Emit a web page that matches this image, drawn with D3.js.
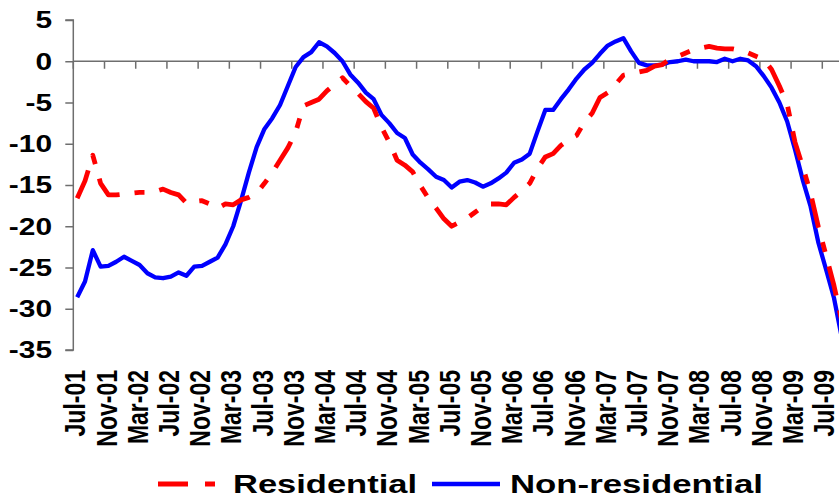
<!DOCTYPE html>
<html>
<head>
<meta charset="utf-8">
<script src="https://cdn.jsdelivr.net/npm/d3@7"></script>
<style>
  html, body { margin: 0; padding: 0; background: #fff; }
  svg { display: block; }
  text { font-family: "Liberation Sans", Arial, sans-serif; font-weight: bold; fill: #000; }
</style>
</head>
<body>
<svg id="chart" width="839" height="498"></svg>
<script>
// ---- data ----
const months = [
  "Jul-01","Aug-01","Sep-01","Oct-01","Nov-01","Dec-01","Jan-02","Feb-02","Mar-02","Apr-02","May-02","Jun-02",
  "Jul-02","Aug-02","Sep-02","Oct-02","Nov-02","Dec-02","Jan-03","Feb-03","Mar-03","Apr-03","May-03","Jun-03",
  "Jul-03","Aug-03","Sep-03","Oct-03","Nov-03","Dec-03","Jan-04","Feb-04","Mar-04","Apr-04","May-04","Jun-04",
  "Jul-04","Aug-04","Sep-04","Oct-04","Nov-04","Dec-04","Jan-05","Feb-05","Mar-05","Apr-05","May-05","Jun-05",
  "Jul-05","Aug-05","Sep-05","Oct-05","Nov-05","Dec-05","Jan-06","Feb-06","Mar-06","Apr-06","May-06","Jun-06",
  "Jul-06","Aug-06","Sep-06","Oct-06","Nov-06","Dec-06","Jan-07","Feb-07","Mar-07","Apr-07","May-07","Jun-07",
  "Jul-07","Aug-07","Sep-07","Oct-07","Nov-07","Dec-07","Jan-08","Feb-08","Mar-08","Apr-08","May-08","Jun-08",
  "Jul-08","Aug-08","Sep-08","Oct-08","Nov-08","Dec-08","Jan-09","Feb-09","Mar-09","Apr-09","May-09","Jun-09",
  "Jul-09","Aug-09","Sep-09"
];
const xTickLabels = ["Jul-01","Nov-01","Mar-02","Jul-02","Nov-02","Mar-03","Jul-03","Nov-03","Mar-04",
  "Jul-04","Nov-04","Mar-05","Jul-05","Nov-05","Mar-06","Jul-06","Nov-06","Mar-07","Jul-07","Nov-07",
  "Mar-08","Jul-08","Nov-08","Mar-09","Jul-09"];
const yTicks = [5, 0, -5, -10, -15, -20, -25, -30, -35];

const residential = [
  -16.6,-14.5,-11.4,-14.8,-16.2,-16.2,-16.1,-16.0,-15.9,-15.9,-15.8,-15.5,
  -15.9,-16.2,-17.2,-17.0,-16.9,-17.3,-17.8,-17.3,-17.4,-16.8,-16.5,-16.0,
  -14.8,-13.5,-12.0,-10.5,-8.6,-5.4,-5.0,-4.6,-3.6,-2.8,-2.0,-3.0,
  -3.9,-4.9,-5.7,-8.0,-9.8,-12.0,-12.6,-13.4,-15.1,-16.6,-17.8,-19.1,
  -20.0,-19.5,-19.0,-18.3,-17.6,-17.3,-17.3,-17.4,-16.5,-15.7,-14.8,-13.0,
  -11.6,-11.2,-10.2,-9.5,-9.0,-7.4,-6.3,-4.4,-3.8,-2.8,-1.7,-1.5,
  -1.3,-1.1,-0.6,-0.4,0.3,0.6,1.0,1.4,1.6,1.8,1.6,1.5,
  1.5,1.3,1.0,0.6,0.2,-1.0,-3.0,-5.2,-9.8,-12.8,-16.0,-20.1,
  -23.6,-27.2,-31.5
];
const nonResidential = [
  -28.6,-26.7,-22.9,-24.9,-24.8,-24.3,-23.7,-24.2,-24.7,-25.7,-26.2,-26.3,
  -26.1,-25.6,-26.0,-24.9,-24.8,-24.3,-23.8,-22.2,-20.0,-16.9,-13.5,-10.4,
  -8.2,-6.9,-5.3,-3.0,-0.7,0.5,1.1,2.3,1.8,1.0,0.0,-1.6,
  -2.6,-3.8,-4.6,-6.5,-7.5,-8.7,-9.3,-11.3,-12.3,-13.1,-14.0,-14.4,
  -15.3,-14.6,-14.4,-14.7,-15.2,-14.8,-14.2,-13.5,-12.3,-11.9,-11.2,-8.5,
  -5.9,-5.9,-4.6,-3.4,-2.1,-1.0,-0.2,0.9,1.9,2.4,2.8,1.2,
  -0.2,-0.5,-0.5,-0.4,-0.1,0.0,0.2,0.0,0.0,0.0,-0.1,0.3,
  0.0,0.3,0.1,-0.6,-1.8,-3.2,-5.0,-7.3,-10.7,-14.4,-17.6,-22.0,
  -25.3,-28.7,-33.5
];
const seriesNames = ["Residential", "Non-residential"];
const seriesColors = ["#FF0000", "#0000FF"];

// ---- layout ----
const svg = d3.select("#chart");
const left = 73.3, monthW = 7.802;
const x = d3.scaleBand().domain(months).range([left, left + months.length * monthW]).paddingInner(0).paddingOuter(0);
const y = d3.scaleLinear().domain([-35, 5]).range([350, 20]);
const cx = m => x(m) + x.bandwidth() / 2;
const axisColor = "#6e6e6e";

// y axis
const yAxis = d3.axisLeft(y).tickValues(yTicks).tickSize(8).tickFormat("");
const gy = svg.append("g").attr("transform", `translate(${left},0)`).call(yAxis);
gy.select(".domain").attr("stroke", axisColor).attr("stroke-width", 1.5).attr("d", `M-8,${y(5)}H0V${y(-35)}H-8`);
gy.selectAll(".tick line").attr("stroke", axisColor).attr("stroke-width", 1.5);

svg.append("g").selectAll("text").data(yTicks).join("text")
  .attr("text-anchor", "end")
  .attr("font-size", 23)
  .attr("dy", "0.36em")
  .attr("transform", d => `translate(52,${y(d)}) scale(1.3,1)`)
  .text(d => d);

// x axis at zero
const tickMonths = months.filter((m, i) => i % 4 === 0);
const xAxis = d3.axisBottom(x).tickValues(tickMonths).tickSize(7.5).tickFormat("");
const gx = svg.append("g").attr("transform", `translate(0,${y(0)})`).call(xAxis);
gx.select(".domain").attr("stroke", axisColor).attr("stroke-width", 1.5).attr("d", `M${left},0H${left + months.length * monthW}`);
gx.selectAll(".tick").attr("transform", d => `translate(${x(d)},0)`);
gx.selectAll(".tick line").attr("stroke", axisColor).attr("stroke-width", 1.5);

// x labels (rotated)
svg.append("g").selectAll("text").data(xTickLabels).join("text")
  .attr("text-anchor", "end")
  .attr("font-size", 23)
  .attr("dy", "0.3em")
  .attr("transform", d => `translate(${cx(d) - 0.5},370) rotate(-90) scale(1,1.25)`)
  .text(d => d);

// lines
const line = d3.line().x((d, i) => cx(months[i])).y(d => y(d)).curve(d3.curveLinear);
svg.append("path").datum(nonResidential)
  .attr("fill", "none").attr("stroke", seriesColors[1]).attr("stroke-width", 4.3)
  .attr("stroke-linejoin", "round").attr("d", line);
svg.append("path").datum(residential)
  .attr("fill", "none").attr("stroke", seriesColors[0]).attr("stroke-width", 4.8)
  .attr("stroke-dasharray", "30,15,10,15")
  .attr("stroke-linejoin", "round").attr("d", line);

// legend
const lg = svg.append("g");
lg.append("line").attr("x1", 158).attr("x2", 215).attr("y1", 484).attr("y2", 484)
  .attr("stroke", seriesColors[0]).attr("stroke-width", 4.8).attr("stroke-dasharray", "30,17,10,17");
lg.append("text").attr("x", 233).attr("y", 493).attr("font-size", 25.5)
  .attr("textLength", 184).attr("lengthAdjust", "spacingAndGlyphs").text(seriesNames[0]);
lg.append("line").attr("x1", 432).attr("x2", 500).attr("y1", 484).attr("y2", 484)
  .attr("stroke", seriesColors[1]).attr("stroke-width", 4.3);
lg.append("text").attr("x", 510).attr("y", 493).attr("font-size", 25.5)
  .attr("textLength", 253).attr("lengthAdjust", "spacingAndGlyphs").text(seriesNames[1]);
</script>
</body>
</html>
